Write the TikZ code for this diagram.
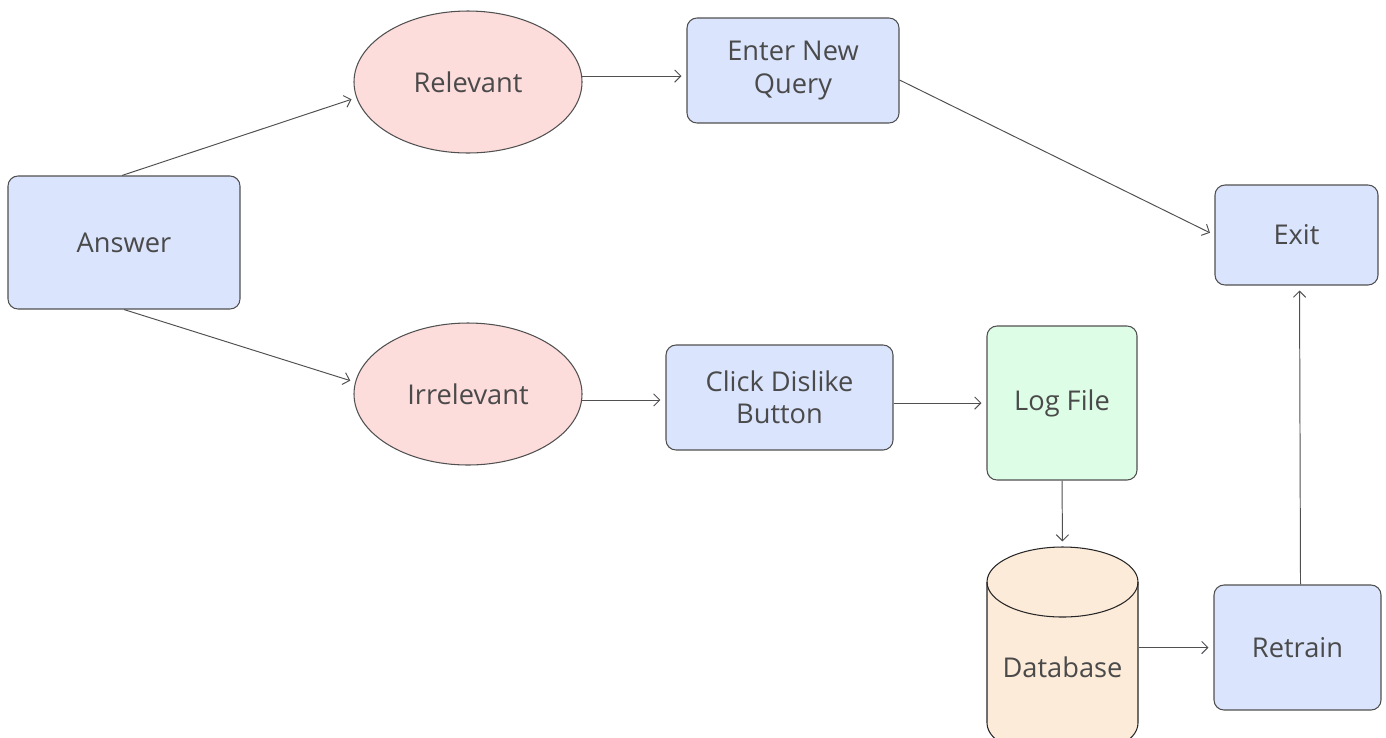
\documentclass[tikz,border=0pt]{standalone}
\usepackage{fontspec}
\setmainfont{Open Sans}
\usetikzlibrary{shapes.geometric, arrows.meta}

\definecolor{boxblue}{HTML}{DAE4FD}
\definecolor{choicepink}{HTML}{FDDCDC}
\definecolor{loggreen}{HTML}{DDFDE6}
\definecolor{dborange}{HTML}{FDEBDA}
\definecolor{edgegray}{HTML}{505050}
\definecolor{labelgray}{HTML}{4A4A4A}

\tikzset{
  base/.style={draw=edgegray, line width=0.6pt, text=labelgray,
    font=\fontsize{15.5}{18.5}\selectfont, align=center, inner sep=0pt},
  box/.style={base, rectangle, rounded corners=0.2cm, fill=boxblue},
  choice/.style={base, ellipse, fill=choicepink,
    minimum width=4.56cm, minimum height=2.84cm},
  dbshape/.style={draw=black!85, line width=0.6pt, fill=dborange},
  dbend/.style={x radius=1.51cm, y radius=0.70cm},
  flow/.style={-{Straight Barb[length=3.5pt, width=7pt]}, draw=edgegray,
    line width=0.55pt, shorten >=0.1cm}
}

\begin{document}
\begin{tikzpicture}
                \useasboundingbox (0,0) rectangle (27.72,-14.74);

                % Cylinder of the database
                \coordinate (dbtop) at (21.25,-10.94);
                \draw[dbshape] ([shift={(-1.51,-0.70)}]dbtop) -- ++(0,-2.82)
                    arc[dbend, start angle=180, end angle=360] -- ++(0,2.82)
                    arc[dbend, start angle=0, end angle=180] -- cycle;
                \draw[dbshape, fill=none] ([shift={(-1.51,-0.70)}]dbtop) arc[dbend, start angle=180, end angle=360];

                % Nodes
                \node[box, minimum width=4.64cm, minimum height=2.66cm] (answer) at (2.48,-4.85) {Answer};
                \node[choice] (relevant) at (9.36,-1.64) {Relevant};
                \node[choice] (irrelevant) at (9.36,-7.88) {Irrelevant};
                \node[box, minimum width=4.24cm, minimum height=2.1cm] (query) at (15.86,-1.41) {Enter New\\Query};
                \node[box, minimum width=4.54cm, minimum height=2.1cm] (click) at (15.59,-7.95) {Click Dislike\\Button};
                \node[box, fill=loggreen, minimum width=3cm, minimum height=3.08cm] (logfile) at (21.24,-8.06) {Log File};
                \node[base, draw=none, minimum width=3.02cm, minimum height=4.8cm] (database) at (21.25,-13.34) {Database};
                \node[box, minimum width=3.34cm, minimum height=2.5cm] (retrain) at (25.95,-12.95) {Retrain};
                \node[box, minimum width=3.26cm, minimum height=2cm] (exit) at (25.93,-4.70) {Exit};

                % Arrows
                \draw[flow] ([xshift=-0.04cm]answer.north) -- (relevant.188);
                \draw[flow] (answer.south) -- (irrelevant.174);
                \draw[flow] (relevant.3) -- (relevant.3 -| query.west);
                \draw[flow] ([yshift=-0.19cm]query.east) -- (exit.west);
                \draw[flow] (irrelevant.357) -- (irrelevant.357 -| click.west);
                \draw[flow] (click.east |- logfile.west) -- (logfile.west);
                \draw[flow] (logfile.south) -- (database.north);
                \draw[flow] (database.east |- retrain.west) -- (retrain.west);
                \draw[flow] ([xshift=0.06cm]retrain.north) -- ([xshift=0.06cm]exit.south);
\end{tikzpicture}
\end{document}
